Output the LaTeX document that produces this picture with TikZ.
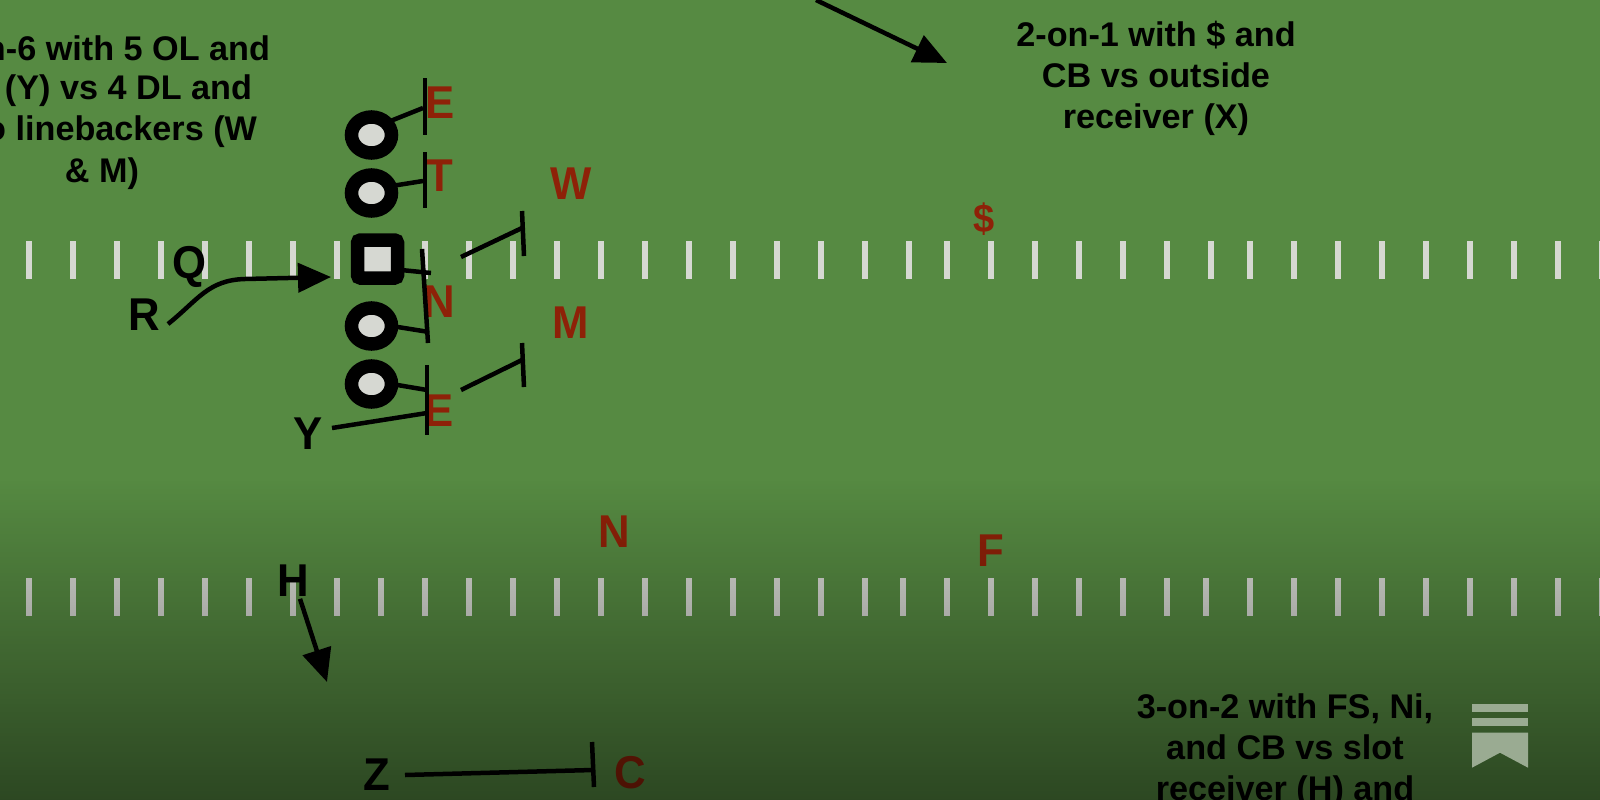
\documentclass[tikz,border=0pt]{standalone}
\usepackage{fontspec}
\setmainfont{Liberation Sans}
\newfontfamily\lab[FakeStretch=0.95]{Liberation Sans Bold}
\usetikzlibrary{arrows.meta,fadings,shapes.geometric}
\definecolor{turf}{HTML}{568A42}
\definecolor{defred}{HTML}{8E2108}
\definecolor{hash}{HTML}{D6D8D2}
\definecolor{logo}{HTML}{9AAB92}
\tikzfading[name=fieldshade, top color=transparent!100, bottom color=transparent!52]
\tikzset{
  every node/.style={inner sep=0pt,outer sep=0pt},
  hashmark/.style={draw=hash,line width=5.5pt},
  note/.style={font=\fontsize{34.2}{41}\selectfont\bfseries,text=black,align=center},
  noteline/.style={font=\fontsize{34.2}{41}\selectfont\bfseries,text=black,anchor=east},
  off/.style={font=\lab\fontsize{46}{46}\selectfont,text=black},
  def/.style={font=\lab\fontsize{46}{46}\selectfont,text=defred},
  lineman/.style={ellipse,draw=black,fill=hash,line width=13.5pt,minimum width=40pt,minimum height=36pt},
  centerman/.style={rectangle,rounded corners=3pt,draw=black,fill=hash,line width=13.5pt,minimum width=40pt,minimum height=38pt},
  stem/.style={draw=black,line width=4.5pt},
  route/.style={draw=black,line width=4.5pt,-{Triangle[length=33pt,width=29pt]}},
}
\begin{document}
\begin{tikzpicture}[x=1pt,y=-1pt]
\useasboundingbox (0,0) rectangle (1600,800);
\clip (0,0) rectangle (1600,800);
\fill[turf] (0,0) rectangle (1600,800);
% hash marks
\foreach \x in {29,73,...,909,947,991,...,1211,1250,1294,...,1558,1602}{
  \draw[hashmark] (\x,241) -- (\x,279);
}
\foreach \x in {29,73,...,865,903,947,991,...,1167,1206,1250,1294,...,1558,1602}{
  \draw[hashmark] (\x,578) -- (\x,616);
}
% offense
\node[lineman] (ol1) at (371.5,135) {};
\node[lineman] (ol2) at (371.5,193) {};
\node[centerman] (oc) at (377.5,259) {};
\node[lineman] (ol3) at (371.5,326) {};
\node[lineman] (ol4) at (371.5,384) {};
% text
\node[noteline] (n1) at (270,48) {n-6 with 5 OL and};
\node[noteline] (n2) at (252,90.5) {(Y) vs 4 DL and};
\node[noteline] (n3) at (257,132) {o linebackers (W};
\node[note] (n4) at (102,173.5) {\& M)};
\node[note] (n5) at (1156,78) {2-on-1 with \$ and\\CB vs outside\\receiver (X)};
\node[note] (n6) at (1285,750.5) {3-on-2 with FS, Ni,\\and CB vs slot\\receiver (H) and};
% defenders
\node[def] (dE) at (440,103) {E};
\node[def] (dT) at (440,176) {T};
\node[def] (dW) at (571,184) {W};
\node[def,font=\lab\fontsize{40}{40}\selectfont] (dS) at (984,219) {\$};
\node[def] (dN) at (439,302) {N};
\node[def] (dM) at (571,323) {M};
\node[def] (dE2) at (439,411) {E};
\node[def] (dNi) at (614,532) {N};
\node[def] (dF) at (991,551) {F};
\node[def] (dC) at (630,773) {C};
% offense labels
\node[off] (Q) at (189,267) {Q};
\node[off] (R) at (144,315) {R};
\node[off] (Y) at (308,434) {Y};
\node[off] (H) at (293,581) {H};
\node[off] (Z) at (377,775) {Z};
% block ends
\coordinate (a1) at (425,78); \coordinate (a2) at (425,135); \coordinate (a0) at (423,108);
\coordinate (b1) at (425,152); \coordinate (b2) at (425,208); \coordinate (b0) at (423,181);
\coordinate (c1) at (422,249); \coordinate (c2) at (428,343);
\coordinate (c3) at (431,273); \coordinate (c4) at (429,332);
\coordinate (e1) at (427,365); \coordinate (e2) at (427,435); \coordinate (e0) at (427,390); \coordinate (e3) at (427,413);
\coordinate (w1) at (522,211); \coordinate (w2) at (524,256); \coordinate (w0) at (522,228); \coordinate (w3) at (461,257);
\coordinate (m1) at (522,343); \coordinate (m2) at (524,387); \coordinate (m0) at (522,360); \coordinate (m3) at (461,390);
\coordinate (z1) at (592,742); \coordinate (z2) at (594,787); \coordinate (z0) at (593,770);
\coordinate (top) at (816,0); \coordinate (tip) at (947,63);
\coordinate (qtip) at (331,277); \coordinate (htip) at (327,682);
\coordinate (rs) at (168,324); \coordinate (zs) at (405,775); \coordinate (ys) at (332,428);
\draw[stem] (a1) -- (a2);
\draw[stem] (ol1.40) -- (a0);
\draw[stem] (b1) -- (b2);
\draw[stem] (ol2.20) -- (b0);
\draw[stem] (c1) -- (c2);
\draw[stem] (oc.-28) -- (c3);
\draw[stem] (ol3.0) -- (c4);
\draw[stem] (e1) -- (e2);
\draw[stem] (ol4.0) -- (e0);
\draw[stem] (ys) -- (e3);
\draw[stem] (w1) -- (w2);
\draw[stem] (w3) -- (w0);
\draw[stem] (m1) -- (m2);
\draw[stem] (m3) -- (m0);
\draw[stem] (z1) -- (z2);
\draw[stem] (zs) -- (z0);
% routes
\draw[route] (top) -- (tip);
\draw[route] (rs) .. controls (198,300) and (208,280) .. (245,279) -- (qtip);
\draw[route] (H.south) ++(7,2) -- (htip);
% vignette
\fill[black,path fading=fieldshade] (-10,480) rectangle (1610,800);
% logo
\fill[logo] (1472,704) rectangle (1528,711.7);
\fill[logo] (1472,718.3) rectangle (1528,726);
\fill[logo] (1472,732.7) -- (1528,732.7) -- (1528,767.7) -- (1500,752.7) -- (1472,767.7) -- cycle;
\end{tikzpicture}
\end{document}
